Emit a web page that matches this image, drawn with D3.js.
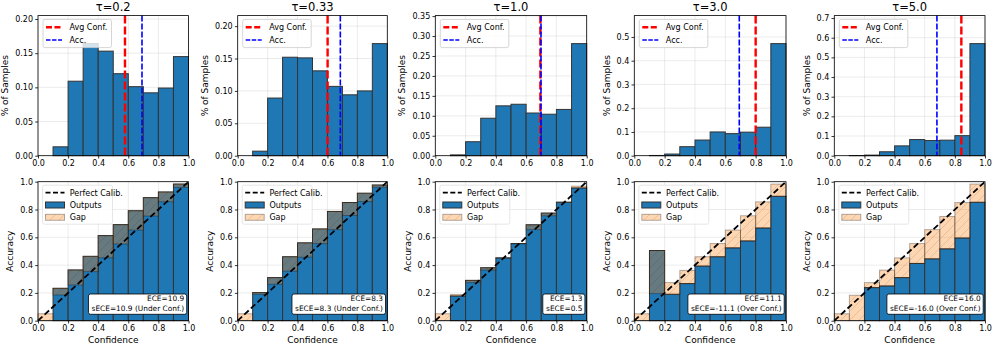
<!DOCTYPE html>
<html><head><meta charset="utf-8">
<script src="https://cdn.jsdelivr.net/npm/d3@7"></script>
<style>body{margin:0;background:#fff} svg{display:block} text{font-family:"DejaVu Sans",sans-serif;fill:#000}</style>
</head><body><svg id="c" width="996" height="349"></svg>
<script>
// ---------------- data ----------------
const titles = ["τ=0.2", "τ=0.33", "τ=1.0", "τ=3.0", "τ=5.0"];
const binStarts = [0, 0.1, 0.2, 0.3, 0.4, 0.5, 0.6, 0.7, 0.8, 0.9];
// fraction of samples per confidence bin
const histT02  = [0, 0.013, 0.109, 0.164, 0.153, 0.120, 0.101, 0.092, 0.099, 0.145];
const histT033 = [0, 0.007, 0.089, 0.152, 0.151, 0.131, 0.107, 0.094, 0.100, 0.173];
const histT10  = [0, 0.002, 0.035, 0.094, 0.125, 0.129, 0.107, 0.104, 0.116, 0.281];
const histT30  = [0, 0.001, 0.007, 0.038, 0.066, 0.100, 0.093, 0.099, 0.120, 0.472];
const histT50  = [0, 0.001, 0.003, 0.020, 0.050, 0.082, 0.077, 0.079, 0.102, 0.570];
const avgConf  = [0.578, 0.601, 0.694, 0.800, 0.843];
const overallAcc = [0.691, 0.686, 0.698, 0.692, 0.681];
// per-bin accuracy (Outputs) and mean confidence
const accT02  = [0, 0.233, 0.365, 0.463, 0.612, 0.691, 0.791, 0.885, 0.926, 0.983];
const confT02 = [0.05, 0.185, 0.257, 0.353, 0.453, 0.552, 0.652, 0.753, 0.856, 0.959];
const accT033  = [0, 0.202, 0.310, 0.460, 0.560, 0.660, 0.786, 0.850, 0.917, 0.976];
const confT033 = [0.05, 0.190, 0.262, 0.357, 0.457, 0.555, 0.655, 0.757, 0.857, 0.960];
const accT10  = [0, 0.178, 0.290, 0.381, 0.452, 0.555, 0.690, 0.774, 0.852, 0.955];
const confT10 = [0.05, 0.188, 0.274, 0.364, 0.450, 0.553, 0.655, 0.755, 0.854, 0.968];
const accT30  = [0, 0.505, 0.190, 0.267, 0.393, 0.460, 0.524, 0.574, 0.667, 0.895];
const confT30 = [0.05, 0.195, 0.274, 0.362, 0.460, 0.555, 0.652, 0.755, 0.855, 0.983];
const accT50  = [0, 0, 0.238, 0.250, 0.310, 0.412, 0.445, 0.517, 0.595, 0.852];
const confT50 = [0.05, 0.183, 0.274, 0.364, 0.452, 0.555, 0.655, 0.750, 0.850, 0.983];
const eceLabels  = ["ECE=10.9", "ECE=8.3", "ECE=1.3", "ECE=11.1", "ECE=16.0"];
const sEceLabels = ["sECE=10.9 (Under Conf.)", "sECE=8.3 (Under Conf.)", "sECE=0.5", "sECE=-11.1 (Over Conf.)", "sECE=-16.0 (Over Conf.)"];
const xTickVals = [0, 0.2, 0.4, 0.6, 0.8, 1.0];
const xTickLabels = ["0.0", "0.2", "0.4", "0.6", "0.8", "1.0"];
const yTickValsTop = [
  [0, 0.05, 0.10, 0.15, 0.20], [0, 0.05, 0.10, 0.15, 0.20],
  [0, 0.05, 0.10, 0.15, 0.20, 0.25, 0.30, 0.35],
  [0, 0.1, 0.2, 0.3, 0.4, 0.5], [0, 0.1, 0.2, 0.3, 0.4, 0.5, 0.6, 0.7]];
const yTickLabelsTop = [
  ["0.00", "0.05", "0.10", "0.15", "0.20"], ["0.00", "0.05", "0.10", "0.15", "0.20"],
  ["0.00", "0.05", "0.10", "0.15", "0.20", "0.25", "0.30", "0.35"],
  ["0.0", "0.1", "0.2", "0.3", "0.4", "0.5"], ["0.0", "0.1", "0.2", "0.3", "0.4", "0.5", "0.6", "0.7"]];
const yTickValsBot = [0, 0.2, 0.4, 0.6, 0.8, 1.0];
const yTickLabelsBot = ["0.0", "0.2", "0.4", "0.6", "0.8", "1.0"];

const hists = [histT02, histT033, histT10, histT30, histT50];
const accs = [accT02, accT033, accT10, accT30, accT50];
const confs = [confT02, confT033, confT10, confT30, confT50];

// ---------------- layout ----------------
const colL = [38, 237.7, 435.3, 634.3, 834.3];
const colR = [188.5, 387.3, 586.7, 786, 985];
const topRow = {t: 15.6, b: 155.7};
const botRow = {t: 181.7, b: 320.7};
const BLUE = "#1f77b4";
const svg = d3.select("#c");
const defs = svg.append("defs");
const pat = defs.append("pattern").attr("id", "hatch").attr("patternUnits", "userSpaceOnUse")
  .attr("width", 9).attr("height", 9);
pat.append("rect").attr("width", 9).attr("height", 9).attr("fill", "rgba(255,127,14,0.32)");
pat.append("path").attr("d", "M-1,10 L10,-1 M-2,1 L1,-2 M8,11 L11,8")
  .attr("stroke", "rgba(0,0,0,0.15)").attr("stroke-width", 0.7);

function grid(g, x, y, yVals, L, R, T, B) {
  g.append("g").selectAll("line").data(xTickVals).join("line")
    .attr("x1", d => x(d)).attr("x2", d => x(d)).attr("y1", T).attr("y2", B)
    .attr("stroke", "#b0b0b0").attr("stroke-opacity", 0.3).attr("stroke-width", 0.8);
  g.append("g").selectAll("line").data(yVals).join("line")
    .attr("x1", L).attr("x2", R).attr("y1", d => y(d)).attr("y2", d => y(d))
    .attr("stroke", "#b0b0b0").attr("stroke-opacity", 0.3).attr("stroke-width", 0.8);
}
function frameAndAxes(g, x, y, yVals, yLabels, L, R, T, B, ylab, showXLabel) {
  g.append("rect").attr("x", L).attr("y", T).attr("width", R - L).attr("height", B - T)
    .attr("fill", "none").attr("stroke", "#000").attr("stroke-width", 0.8);
  const xa = g.append("g").attr("transform", `translate(0,${B})`)
    .call(d3.axisBottom(x).tickValues(xTickVals).tickFormat((d, i) => xTickLabels[i])
      .tickSize(2.8).tickSizeOuter(0).tickPadding(2.2));
  xa.select(".domain").remove();
  xa.selectAll("text").attr("font-size", 8).attr("font-family", "DejaVu Sans");
  xa.selectAll("line").attr("stroke-width", 0.8);
  const ya = g.append("g").attr("transform", `translate(${L},0)`)
    .call(d3.axisLeft(y).tickValues(yVals).tickFormat((d, i) => yLabels[i])
      .tickSize(2.8).tickSizeOuter(0).tickPadding(2.2));
  ya.select(".domain").remove();
  ya.selectAll("text").attr("font-size", 8).attr("font-family", "DejaVu Sans");
  ya.selectAll("line").attr("stroke-width", 0.8);
  let w = 0;
  ya.selectAll("text").each(function () { w = Math.max(w, this.getBBox().width); });
  const lx = L - 5 - w - 7;
  g.append("text").attr("transform", `translate(${lx},${(T + B) / 2}) rotate(-90)`)
    .attr("text-anchor", "middle").attr("font-size", 9).text(ylab);
  if (showXLabel) {
    g.append("text").attr("x", (L + R) / 2).attr("y", B + 22).attr("text-anchor", "middle")
      .attr("font-size", 9).text("Confidence");
  }
}

titles.forEach((title, c) => {
  const L = colL[c], R = colR[c];
  const x = d3.scaleLinear().domain([0, 1]).range([L, R]);
  // ---------- top histogram ----------
  {
    const T = topRow.t, B = topRow.b;
    const ymax = d3.max(hists[c]) * 1.25;
    const y = d3.scaleLinear().domain([0, ymax]).range([B, T]);
    const g = svg.append("g");
    grid(g, x, y, yTickValsTop[c], L, R, T, B);
    g.append("g").selectAll("rect").data(hists[c]).join("rect")
      .attr("x", (d, i) => x(binStarts[i])).attr("width", (d, i) => x(binStarts[i] + 0.1) - x(binStarts[i]))
      .attr("y", d => y(d)).attr("height", d => y(0) - y(d))
      .attr("fill", BLUE).attr("stroke", "#333").attr("stroke-width", 1);
    g.append("line").attr("x1", x(avgConf[c])).attr("x2", x(avgConf[c])).attr("y1", T).attr("y2", B)
      .attr("stroke", "#ff0000").attr("stroke-width", 2.4).attr("stroke-dasharray", "8,3");
    g.append("line").attr("x1", x(overallAcc[c])).attr("x2", x(overallAcc[c])).attr("y1", T).attr("y2", B)
      .attr("stroke", "#0000ff").attr("stroke-width", 1.6).attr("stroke-dasharray", "6,2");
    frameAndAxes(g, x, y, yTickValsTop[c], yTickLabelsTop[c], L, R, T, B, "% of Samples", false);
    g.append("text").attr("x", (L + R) / 2).attr("y", T - 4.3).attr("text-anchor", "middle")
      .attr("font-size", 11.5).text(title);
    // legend
    const lg = g.append("g");
    lg.append("rect").attr("x", L + 5).attr("y", T + 3.8).attr("width", 68.5).attr("height", 28.2)
      .attr("rx", 2).attr("fill", "#fff").attr("fill-opacity", 0.8).attr("stroke", "#ccc").attr("stroke-width", 0.8);
    lg.append("line").attr("x1", L + 8).attr("x2", L + 24).attr("y1", T + 11.7).attr("y2", T + 11.7)
      .attr("stroke", "#ff0000").attr("stroke-width", 2.4).attr("stroke-dasharray", "6,2.5");
    lg.append("line").attr("x1", L + 8).attr("x2", L + 24).attr("y1", T + 24.4).attr("y2", T + 24.4)
      .attr("stroke", "#0000ff").attr("stroke-width", 1.6).attr("stroke-dasharray", "4.5,1.5");
    lg.append("text").attr("x", L + 31.5).attr("y", T + 14.6).attr("font-size", 8).text("Avg Conf.");
    lg.append("text").attr("x", L + 31.5).attr("y", T + 27.3).attr("font-size", 8).text("Acc.");
  }
  // ---------- bottom reliability ----------
  {
    const T = botRow.t, B = botRow.b;
    const y = d3.scaleLinear().domain([0, 1]).range([B, T]);
    const g = svg.append("g");
    grid(g, x, y, yTickValsBot, L, R, T, B);
    g.append("g").selectAll("rect").data(accs[c]).join("rect")
      .attr("x", (d, i) => x(binStarts[i])).attr("width", (d, i) => x(binStarts[i] + 0.1) - x(binStarts[i]))
      .attr("y", d => y(d)).attr("height", d => y(0) - y(d))
      .attr("fill", BLUE).attr("stroke", "#333").attr("stroke-width", 1);
    g.append("g").selectAll("rect").data(confs[c]).join("rect")
      .attr("x", (d, i) => x(binStarts[i])).attr("width", (d, i) => x(binStarts[i] + 0.1) - x(binStarts[i]))
      .attr("y", (d, i) => y(Math.max(d, accs[c][i])))
      .attr("height", (d, i) => Math.abs(y(d) - y(accs[c][i])))
      .attr("fill", "url(#hatch)").attr("stroke", "rgba(0,0,0,0.3)").attr("stroke-width", 1);
    g.append("line").attr("x1", x(0)).attr("y1", y(0)).attr("x2", x(1)).attr("y2", y(1))
      .attr("stroke", "#000").attr("stroke-width", 1.8).attr("stroke-dasharray", "6,3");
    frameAndAxes(g, x, y, yTickValsBot, yTickLabelsBot, L, R, T, B, "Accuracy", true);
    // legend
    const lg = g.append("g");
    lg.append("rect").attr("x", L + 4.5).attr("y", T + 3.5).attr("width", 70).attr("height", 39)
      .attr("rx", 2).attr("fill", "#fff").attr("fill-opacity", 0.8).attr("stroke", "#e0e0e0").attr("stroke-width", 0.8);
    lg.append("line").attr("x1", L + 7.5).attr("x2", L + 26.5).attr("y1", T + 11).attr("y2", T + 11)
      .attr("stroke", "#000").attr("stroke-width", 1.8).attr("stroke-dasharray", "5,2.5");
    lg.append("rect").attr("x", L + 7.5).attr("y", T + 20.3).attr("width", 19).attr("height", 6)
      .attr("fill", BLUE).attr("stroke", "#333").attr("stroke-width", 1);
    lg.append("rect").attr("x", L + 7.5).attr("y", T + 32.6).attr("width", 19).attr("height", 6)
      .attr("fill", "url(#hatch)").attr("stroke", "rgba(0,0,0,0.3)").attr("stroke-width", 1);
    lg.append("text").attr("x", L + 31.7).attr("y", T + 13.9).attr("font-size", 8).text("Perfect Calib.");
    lg.append("text").attr("x", L + 31.7).attr("y", T + 26.2).attr("font-size", 8).text("Outputs");
    lg.append("text").attr("x", L + 31.7).attr("y", T + 38.5).attr("font-size", 8).text("Gap");
    // ECE box
    const eg = g.append("g");
    const bx = eg.append("rect");
    const t1 = eg.append("text").attr("x", R - 4.3).attr("y", B - 19.6).attr("text-anchor", "end")
      .attr("font-size", 7.4).text(eceLabels[c]);
    const t2 = eg.append("text").attr("x", R - 4.3).attr("y", B - 10.2).attr("text-anchor", "end")
      .attr("font-size", 7.4).text(sEceLabels[c]);
    const w = Math.max(t1.node().getBBox().width, t2.node().getBBox().width) + 5.5;
    bx.attr("x", R - 1.8 - w).attr("y", B - 26.7).attr("width", w).attr("height", 20.3).attr("rx", 2)
      .attr("fill", "#fff").attr("stroke", "#000").attr("stroke-width", 0.8);
  }
});
</script></body></html>
